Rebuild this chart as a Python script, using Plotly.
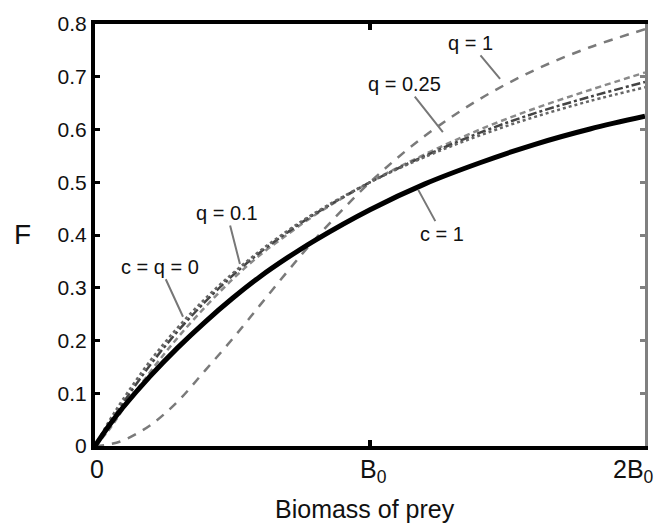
import plotly.graph_objects as go

# prey biomass in units of B0
biomass = [0, 0.05, 0.1, 0.2, 0.3, 0.4, 0.5, 0.6, 0.7, 0.8, 1.0, 1.2, 1.4, 1.6, 1.8, 2.0]

F_c0_q0 = [0, 0.046, 0.087, 0.161, 0.224, 0.279, 0.327, 0.370, 0.408, 0.442, 0.500, 0.548, 0.589, 0.624, 0.654, 0.680]
F_q01 = [0, 0.040, 0.080, 0.153, 0.217, 0.273, 0.323, 0.367, 0.405, 0.440, 0.500, 0.550, 0.594, 0.631, 0.662, 0.690]
F_q025 = [0, 0.030, 0.068, 0.140, 0.205, 0.263, 0.316, 0.362, 0.401, 0.438, 0.500, 0.553, 0.600, 0.640, 0.675, 0.708]
F_q1 = [0, 0.003, 0.010, 0.039, 0.084, 0.143, 0.203, 0.267, 0.331, 0.392, 0.500, 0.588, 0.658, 0.713, 0.756, 0.790]
F_c1 = [0, 0.038, 0.072, 0.132, 0.186, 0.235, 0.280, 0.321, 0.357, 0.390, 0.448, 0.497, 0.537, 0.572, 0.601, 0.625]

ytick_vals = [0, 0.1, 0.2, 0.3, 0.4, 0.5, 0.6, 0.7, 0.8]
ytick_text = ["0", "0.1", "0.2", "0.3", "0.4", "0.5", "0.6", "0.7", "0.8"]
xtick_vals = [0, 1, 2]
xtick_text = ["0", "B<sub>0</sub>", "2B<sub>0</sub>"]
xtick_shift = [2, 3, -12]

# curve labels: (text, x, y of leader end, text offset)
labels = [
    ("q = 1", 1.473, 0.696, -30, -36),
    ("q = 0.25", 1.265, 0.595, -38, -48),
    ("c = 1", 1.175, 0.486, 24, 44),
    ("q = 0.1", 0.527, 0.345, -13, -51),
    ("c = q = 0", 0.32, 0.245, -23, -50),
]

FONT = "Liberation Sans, Arial, sans-serif"
INK = "#111111"

fig = go.Figure()
fig.add_trace(go.Scatter(x=biomass, y=F_q1, mode="lines", line=dict(color="#7a7a7a", width=2.5, dash="9px,8px", shape="spline")))
fig.add_trace(go.Scatter(x=biomass, y=F_q025, mode="lines", line=dict(color="#8a8a8a", width=2.5, dash="6px,4px", shape="spline")))
fig.add_trace(go.Scatter(x=biomass, y=F_q01, mode="lines", line=dict(color="#444444", width=2.5, dash="dashdot", shape="spline")))
fig.add_trace(go.Scatter(x=biomass, y=F_c0_q0, mode="lines", line=dict(color="#666666", width=2.5, dash="dot", shape="spline")))
fig.add_trace(go.Scatter(x=biomass, y=F_c1, mode="lines", line=dict(color="black", width=5, shape="spline")))
# dummy trace to render the grey right axis
fig.add_trace(go.Scatter(x=[None], y=[None], yaxis="y2", mode="lines", showlegend=False))

for text, x, y, ax, ay in labels:
    fig.add_annotation(x=x, y=y, text=text, showarrow=True, arrowhead=0, arrowwidth=2,
                       arrowcolor="#777777", ax=ax, ay=ay, standoff=0,
                       font=dict(family=FONT, size=20, color=INK))

for v, t, s in zip(xtick_vals, xtick_text, xtick_shift):
    fig.add_annotation(x=v, y=0, xref="x", yref="paper", text=t, showarrow=False,
                       xanchor="center", yanchor="top", yshift=-7, xshift=s,
                       font=dict(family=FONT, size=25, color=INK))

fig.add_annotation(x=(22 - 95) / 550, y=0.502, xref="paper", yref="paper", text="F",
                   xanchor="center", yanchor="middle",
                   showarrow=False, font=dict(family=FONT, size=28, color=INK))
fig.add_annotation(x=0.491, y=-0.149, xref="paper", yref="paper", text="Biomass of prey",
                   xanchor="center", yanchor="middle",
                   showarrow=False, font=dict(family=FONT, size=25, color=INK))

fig.update_layout(
    width=660, height=528,
    margin=dict(l=95, r=15, t=16, b=82),
    paper_bgcolor="white", plot_bgcolor="white",
    showlegend=False,
    xaxis=dict(range=[0, 2], tickvals=xtick_vals, showticklabels=False,
               showgrid=False, zeroline=False, showline=True, linecolor="black", linewidth=4,
               mirror="ticks", ticks="inside", ticklen=6, tickwidth=4, tickcolor="black"),
    yaxis=dict(range=[0, 0.8], tickvals=ytick_vals, ticktext=ytick_text,
               showgrid=False, zeroline=False, showline=True, linecolor="black", linewidth=4,
               ticks="inside", ticklen=5, tickwidth=3, tickcolor="black",
               tickfont=dict(family=FONT, size=21, color=INK)),
    yaxis2=dict(range=[0, 0.8], tickvals=ytick_vals, overlaying="y", side="right",
                showticklabels=False, showgrid=False, zeroline=False, showline=True,
                linecolor="#808080", linewidth=3, ticks="inside", ticklen=5, tickwidth=3,
                tickcolor="#808080"),
)

fig.write_html("out.html")
